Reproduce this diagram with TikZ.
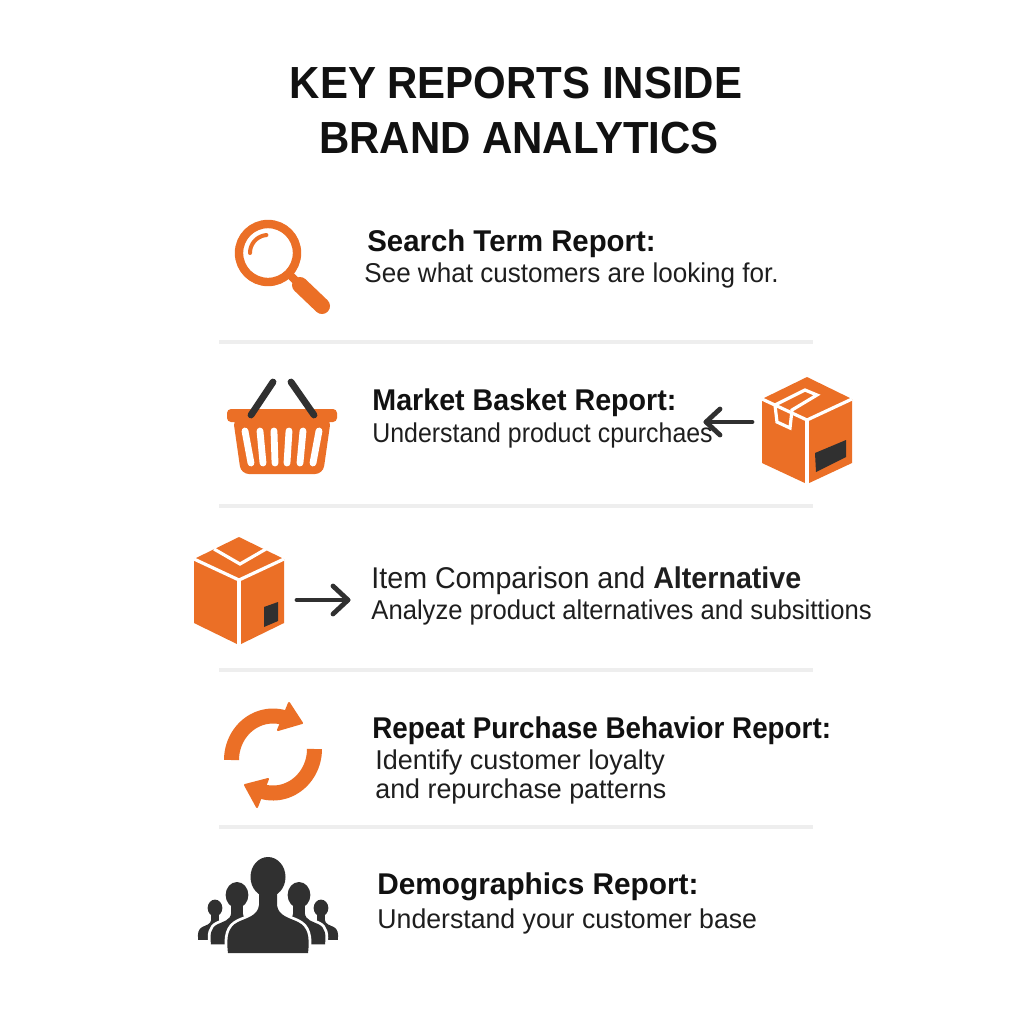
\documentclass[tikz,border=0pt]{standalone}
\usepackage{fontspec}
\setmainfont{Liberation Sans}
\newfontfamily\titlefam[FakeStretch=0.933]{Liberation Sans}
\newfontfamily\headfam[FakeStretch=0.955]{Liberation Sans}
\newfontfamily\bodyfam[FakeStretch=0.958]{Liberation Sans}
\definecolor{brandorange}{HTML}{EB6F26}
\definecolor{inkdark}{HTML}{111111}
\definecolor{bodyink}{HTML}{1E1E1E}
\definecolor{icondark}{HTML}{303030}
\definecolor{rulegrey}{HTML}{EEEEEE}
\tikzset{
  titletext/.style={anchor=base,inner sep=0pt,text=inkdark,font=\titlefam\fontsize{22.5}{28}\selectfont\bfseries},
  headtext/.style={anchor=base west,inner sep=0pt,text=inkdark,font=\headfam\fontsize{15}{18}\selectfont\bfseries},
  bodytext/.style={anchor=base west,inner sep=0pt,text=bodyink,font=\bodyfam\fontsize{13.6}{17}\selectfont},
  divider/.style={draw=rulegrey,line width=2pt},
  arrowline/.style={draw=icondark,line width=2.4pt,line cap=round,line join=round},
  boxfill/.style={fill=brandorange},
  boxline/.style={draw=white,line width=1.6pt,line join=miter},
  slot/.style={draw=white,line width=3.4pt,line cap=round},
  grip/.style={draw=icondark,line width=3.4pt,line cap=round},
}
\newcommand{\crowdshape}{%
  (-40,76) .. controls (-42,60) and (-40,50) .. (-30,45)
      .. controls (-22,41) and (-10,39) .. (-9,28)
      -- (-9,10) -- (9,10) -- (9,28)
      .. controls (10,39) and (22,41) .. (30,45)
      .. controls (40,50) and (42,60) .. (40,76) -- cycle
  (0,0) ellipse[x radius=17.5,y radius=20]}
\newcommand{\crowdmember}[3]{%
  \begin{scope}[shift={(#1,#2)},scale=#3]
    \draw[white,line width=2.8pt] \crowdshape;
    \fill[icondark] \crowdshape;
  \end{scope}}
\newcommand{\fitwd}[2]{\scalebox{#1}[1]{#2}}
\begin{document}
\begin{tikzpicture}[x=0.5pt,y=-0.5pt]
\useasboundingbox[fill=white] (0,0) rectangle (1024,1024);
% title
\node[titletext] (title1) at (516,98) {KEY REPORTS INSIDE};
\node[titletext] (title2) at (519,153) {BRAND ANALYTICS};
% dividers
\coordinate (d1a) at (219,342); \coordinate (d1b) at (813,342);
\coordinate (d2a) at (219,506); \coordinate (d2b) at (813,506);
\coordinate (d3a) at (219,670); \coordinate (d3b) at (813,670);
\coordinate (d4a) at (219,827); \coordinate (d4b) at (813,827);
\draw[divider] (d1a) -- (d1b);
\draw[divider] (d2a) -- (d2b);
\draw[divider] (d3a) -- (d3b);
\draw[divider] (d4a) -- (d4b);
% texts
\node[headtext] (h1) at (367,251) {\fitwd{1.025}{Search Term Report:}};
\node[bodytext] (b1) at (364,282) {See what customers are looking for.};
\node[headtext] (h2) at (372,410) {Market Basket Report:};
\node[bodytext] (b2) at (372,442) {\fitwd{0.955}{Understand product cpurchaes}};
\node[bodytext,font=\headfam\fontsize{15}{18}\selectfont] (h3) at (371,588) {Item Comparison and \textbf{Alternative}};
\node[bodytext] (b3) at (371,619) {\fitwd{0.984}{Analyze product alternatives and subsittions}};
\node[headtext] (h4) at (372,738) {\fitwd{0.97}{Repeat Purchase Behavior Report:}};
\node[bodytext] (b4a) at (375,769) {\fitwd{1.036}{Identify customer loyalty}};
\node[bodytext] (b4b) at (375,798) {\fitwd{1.03}{and repurchase patterns}};
\node[headtext] (h5) at (377,894) {\fitwd{1.04}{Demographics Report:}};
\node[bodytext] (b5) at (377,928) {\fitwd{1.024}{Understand your customer base}};
% magnifier
\draw[brandorange,line width=4.2pt] (268,253) circle[radius=29];
\draw[brandorange,line width=4pt] (290,275) -- (300,285);
\draw[brandorange,line width=8pt,line cap=round] (300,285) -- (322,306);
\draw[brandorange,line width=2pt,line cap=round] plot[domain=95:180,samples=20] ({268+18*cos(\x)},{253-18*sin(\x)});
% basket
\fill[brandorange,rounded corners=2pt] (227,409) -- (337,409) -- (337,422) -- (227,422) -- cycle;
\fill[brandorange,rounded corners=4pt] (233,418) -- (331,418) -- (323,474) -- (241,474) -- cycle;
\foreach \tx/\bx in {245/251,260/263,274/275,289/287,303/300,319/313}
  \draw[slot] (\tx,431) -- (\bx,463);
\draw[grip] (251,415) -- (273,382);
\draw[grip] (314,415) -- (291,382);
% box right
\fill[boxfill] (807,377) -- (852,399) -- (852,463) -- (807,484) -- (762,463) -- (762,399) -- cycle;
\draw[boxline] (762,399) -- (807,420) -- (852,399);
\draw[boxline] (807,420) -- (807,484);
\draw[boxline] (775,405) -- (805,390) -- (817,395) -- (792,410) -- (790,428) -- (777,422) -- cycle;
\fill[icondark] (815,453) -- (846,440) -- (846,457) -- (816,472) -- cycle;
% arrow left
\coordinate (a1s) at (752,422); \coordinate (a1e) at (706,422);
\coordinate (a1u) at (720,409); \coordinate (a1d) at (720,435);
\draw[arrowline] (a1s) -- (a1e);
\draw[arrowline] (a1u) -- (a1e) -- (a1d);
% box left
\fill[boxfill] (239,537) -- (284,559) -- (284,623) -- (239,645) -- (194,623) -- (194,559) -- cycle;
\draw[boxline] (194,559) -- (239,580) -- (284,559);
\draw[boxline] (239,580) -- (239,645);
\draw[boxline] (214,549) -- (240,564) -- (266,549);
\fill[icondark] (264,607) -- (278,602) -- (278,621) -- (264,627) -- cycle;
% arrow right
\coordinate (a2s) at (297,600); \coordinate (a2e) at (348,600);
\coordinate (a2u) at (333,586); \coordinate (a2d) at (333,614);
\draw[arrowline] (a2s) -- (a2e);
\draw[arrowline] (a2u) -- (a2e) -- (a2d);
% refresh
\draw[brandorange,line width=7.5pt] plot[domain=180:72,samples=30] ({273+41.5*cos(\x)},{760-44*sin(\x)});
\fill[brandorange,draw=brandorange,line width=1pt,line join=round] (289,703) -- (302,723) -- (278,730) -- cycle;
\draw[brandorange,line width=7.5pt] plot[domain=0:-108,samples=30] ({273+41.5*cos(\x)},{749-44*sin(\x)});
\fill[brandorange,draw=brandorange,line width=1pt,line join=round] (257,807) -- (245,785) -- (268,779) -- cycle;
% people
\crowdmember{215}{908}{0.42}
\crowdmember{321}{908}{0.42}
\crowdmember{237}{895}{0.65}
\crowdmember{299}{895}{0.65}
\crowdmember{268}{877}{1}
\end{tikzpicture}
\end{document}
